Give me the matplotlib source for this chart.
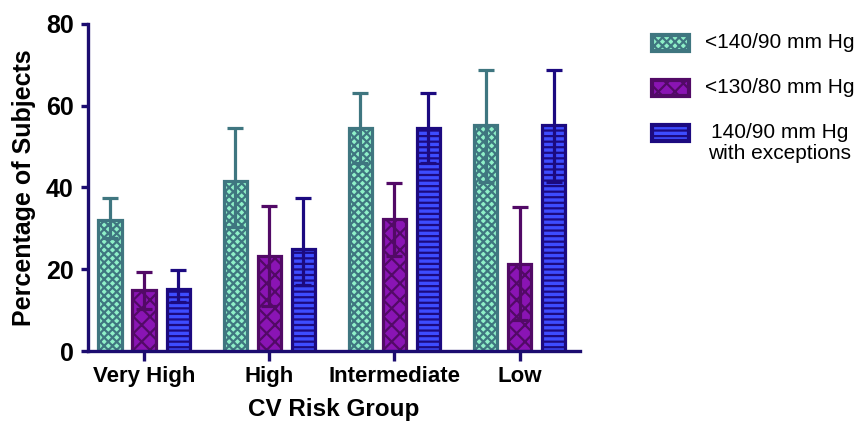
import numpy as np
import matplotlib
matplotlib.use("Agg")
import matplotlib.pyplot as plt
from matplotlib.patches import Rectangle

plt.rcParams['font.family'] = ['Liberation Sans', 'DejaVu Sans']
plt.rcParams['hatch.linewidth'] = 1.6

groups = ['Very High', 'High', 'Intermediate', 'Low']
labels = ['<140/90 mm Hg', '<130/80 mm Hg', '140/90 mm Hg\nwith exceptions']

# bar heights and error bar ends (percent)
mean_140 = [32.0, 41.6, 54.5, 55.2]
hi_140 = [37.5, 54.5, 63.2, 68.6]
lo_140 = [27.6, 30.3, 45.9, 41.3]

mean_130 = [14.9, 23.3, 32.2, 21.3]
hi_130 = [19.4, 35.5, 41.2, 35.1]
lo_130 = [10.4, 11.1, 23.2, 7.5]

mean_exc = [15.2, 25.0, 54.5, 55.2]
hi_exc = [19.8, 37.3, 63.2, 68.6]
lo_exc = [12.1, 16.1, 45.9, 41.3]

navy = '#1c0c70'
series = [
    (mean_140, lo_140, hi_140, '#8ff0c8', '#3f7680', 'xxxx'),
    (mean_130, lo_130, hi_130, '#8a14b4', '#520a66', 'xx'),
    (mean_exc, lo_exc, hi_exc, '#3d4cff', '#1c0a80', '---'),
]

fig = plt.figure(figsize=(8.6, 4.25), dpi=100)
ax = fig.add_axes([0.102, 0.174, 0.572, 0.770])

x = np.arange(len(groups))
offsets = [-0.272, 0.0, 0.272]
for (m, lo, hi, fc, ec, hatch), off, lab in zip(series, offsets, labels):
    m = np.array(m)
    yerr = [m - np.array(lo), np.array(hi) - m]
    ax.bar(x + off, m, width=0.185, facecolor=fc, edgecolor=ec,
           linewidth=2.3, hatch=hatch, label=lab, zorder=2)
    ax.errorbar(x + off, m, yerr=yerr, fmt='none', ecolor=ec,
                elinewidth=2.3, capsize=5.5, capthick=2.3, zorder=3)

ax.set_xlim(-0.45, 3.48)
ax.set_ylim(0, 80)
ax.set_yticks([0, 20, 40, 60, 80])
ax.set_xticks(x)
ax.set_xticklabels(groups)

for s in ['top', 'right']:
    ax.spines[s].set_visible(False)
for s in ['left', 'bottom']:
    ax.spines[s].set_color(navy)
    ax.spines[s].set_linewidth(2.4)
ax.tick_params(axis='y', direction='out', length=5, width=2.4, color=navy,
               labelsize=18, pad=5)
ax.tick_params(axis='x', direction='out', length=7, width=2.4, color=navy,
               labelsize=16, pad=4)
for t in ax.get_xticklabels() + ax.get_yticklabels():
    t.set_fontweight('bold')

ax.set_xlabel('CV Risk Group', fontsize=17.5, fontweight='bold', labelpad=8)
ax.set_ylabel('Percentage of Subjects', fontsize=18, fontweight='bold', labelpad=7)

# legend drawn by hand so the handle sits on the first line of each label
W, H = 860.0, 425.0
leg_y = [43, 88, 133]
for (m, lo, hi, fc, ec, hatch), lab, yc in zip(series, labels, leg_y):
    fig.add_artist(Rectangle((652 / W, 1 - (yc + 8) / H), 37 / W, 16 / H,
                             transform=fig.transFigure, facecolor=fc,
                             edgecolor=ec, linewidth=3, hatch=hatch))
    fig.text(780 / W, 1 - (yc - 10) / H, lab, fontsize=15, ha='center',
             va='top', multialignment='center', linespacing=1.15)

fig.savefig('out.png', dpi=100)
